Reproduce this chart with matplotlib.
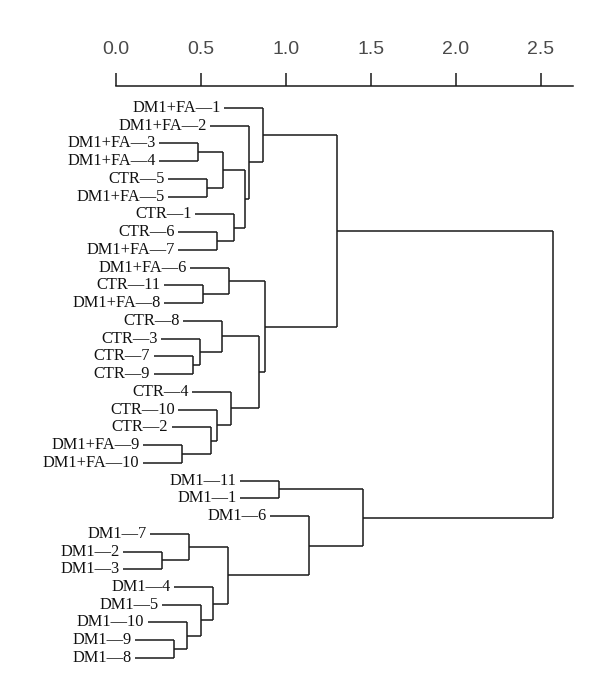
"""
Hierarchical clustering dendrogram (horizontal, R plot.hclust style)
for CTR, DM1 and DM1+FA samples.
"""
import matplotlib
matplotlib.use("Agg")
import matplotlib.pyplot as plt


# ---------------------------------------------------------------------------
# Data: leaf order (top to bottom) and merges (R hclust convention:
# negative = leaf number, positive = earlier merge number)
# ---------------------------------------------------------------------------
LEAF_LABELS = [
    "DM1+FA—1", "DM1+FA—2", "DM1+FA—3", "DM1+FA—4", "CTR—5", "DM1+FA—5",
    "CTR—1", "CTR—6", "DM1+FA—7", "DM1+FA—6", "CTR—11", "DM1+FA—8",
    "CTR—8", "CTR—3", "CTR—7", "CTR—9", "CTR—4", "CTR—10", "CTR—2",
    "DM1+FA—9", "DM1+FA—10", "DM1—11", "DM1—1", "DM1—6", "DM1—7",
    "DM1—2", "DM1—3", "DM1—4", "DM1—5", "DM1—10", "DM1—9", "DM1—8",
]

MERGE_LEFT = [-26, -31, -20, -30, -25, -15, -3, -14, -29, -11, -5, -19,
              -28, -8, -18, -13, 7, 5, -10, -17, -7, 17, -2, 16, -1, 19,
              -22, -24, 25, 27, 29]
MERGE_RIGHT = [-27, -32, -21, 2, 1, -16, -4, 6, 4, -12, -6, 3,
               9, -9, 12, 8, 11, 13, 10, 15, 14, 21, 22, 20, 23, 24,
               -23, 18, 26, 28, 30]
MERGE_HEIGHT = [0.273, 0.342, 0.389, 0.416, 0.431, 0.451, 0.485, 0.495,
                0.499, 0.514, 0.537, 0.558, 0.573, 0.597, 0.597, 0.626,
                0.632, 0.658, 0.666, 0.677, 0.695, 0.762, 0.785, 0.844,
                0.868, 0.876, 0.960, 1.138, 1.303, 1.456, 2.574]

X_TICKS = [0.0, 0.5, 1.0, 1.5, 2.0, 2.5]
HANG = 0.1 * (max(MERGE_HEIGHT) - min(MERGE_HEIGHT))


# ---------------------------------------------------------------------------
# Layout helpers
# ---------------------------------------------------------------------------
def node_y(ref):
    """Vertical position (leaf index) of a leaf or merge node."""
    if ref < 0:
        return -ref - 1
    i = ref - 1
    return 0.5 * (node_y(MERGE_LEFT[i]) + node_y(MERGE_RIGHT[i]))


def plot_dendrogram():
    fig = plt.figure(figsize=(6.0, 6.94), dpi=100)
    W, H = 600, 694
    left_px, right_px = 116, 573
    top_px, bottom_px = 86, 680
    ax = fig.add_axes([left_px / W, 1 - bottom_px / H,
                       (right_px - left_px) / W, (bottom_px - top_px) / H])

    unit = (right_px - left_px) / 2.69
    step = 17.74
    ax.set_xlim(0, 2.69)
    ax.set_ylim((bottom_px - 108) / step, (top_px - 108) / step)

    line_kw = dict(color="#1a1a1a", lw=1.1, solid_capstyle="butt",
                   clip_on=False)
    gap = 3.5 / unit
    for i, h in enumerate(MERGE_HEIGHT):
        ya = node_y(MERGE_LEFT[i])
        yb = node_y(MERGE_RIGHT[i])
        ax.plot([h, h], [ya, yb], **line_kw)
        for ref, yc in ((MERGE_LEFT[i], ya), (MERGE_RIGHT[i], yb)):
            if ref < 0:
                x0 = h - HANG
                ax.text(x0 - gap, yc, LEAF_LABELS[-ref - 1], ha="right",
                        va="center", fontsize=11.8,
                        family=["Liberation Serif", "DejaVu Serif"],
                        color="#111111")
            else:
                x0 = MERGE_HEIGHT[ref - 1]
            ax.plot([x0, h], [yc, yc], **line_kw)

    # top scale axis
    for side in ("left", "right", "bottom"):
        ax.spines[side].set_visible(False)
    ax.spines["top"].set_color("#1a1a1a")
    ax.spines["top"].set_linewidth(1.1)
    ax.xaxis.set_ticks_position("top")
    ax.set_xticks(X_TICKS)
    ax.set_xticklabels([f"{t:.1f}" for t in X_TICKS])
    ax.tick_params(axis="x", direction="out", length=9.5, width=1.1,
                   color="#1a1a1a", pad=11, labelsize=14,
                   labelcolor="#4a4a4a")
    for lab in ax.get_xticklabels():
        lab.set_family(["Liberation Sans", "DejaVu Sans"])
    ax.set_yticks([])

    fig.savefig("out.png", dpi=100)
    plt.close("all")


if __name__ == "__main__":
    plot_dendrogram()
